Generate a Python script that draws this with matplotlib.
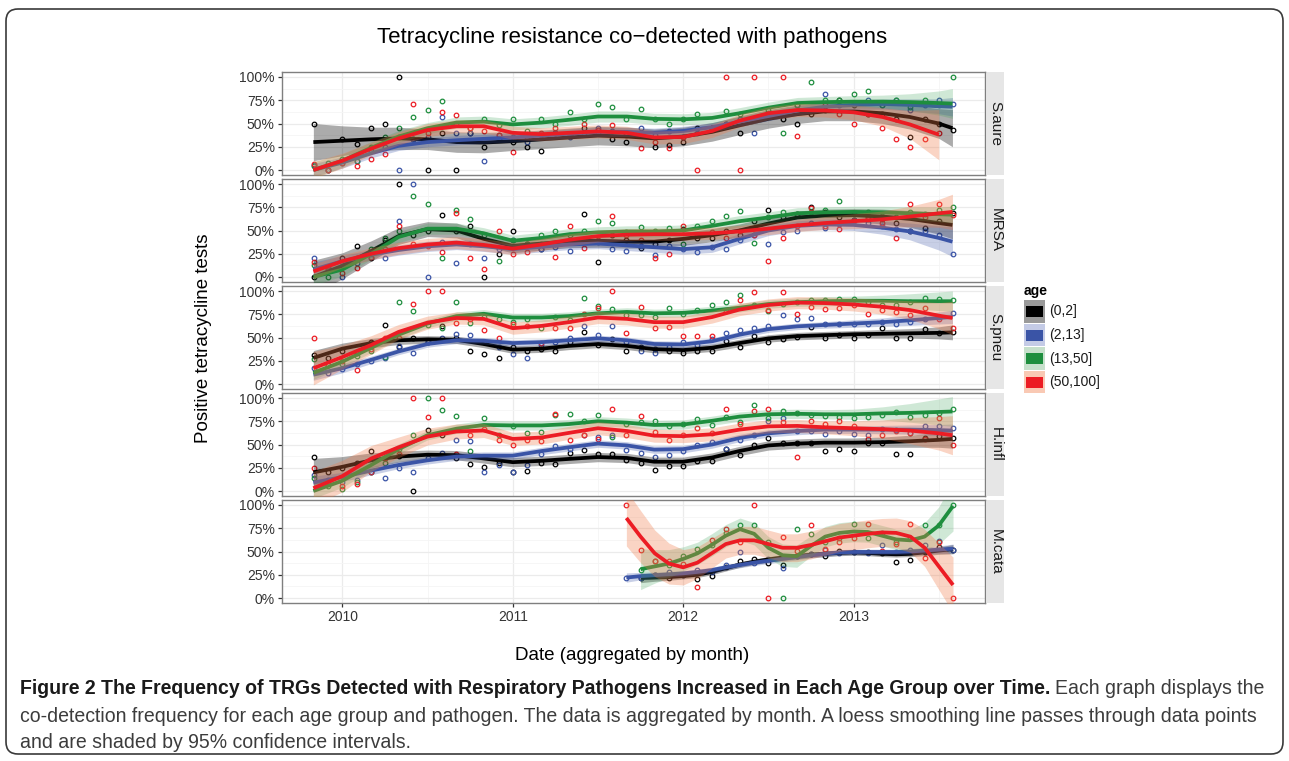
import numpy as np
import matplotlib as mpl
mpl.use('Agg')
import matplotlib.pyplot as plt
from matplotlib import font_manager
from matplotlib.patches import FancyBboxPatch, Rectangle

nan = np.nan

# ---- data -----------------------------------------------------------------
AGES = ['(0,2]', '(2,13]', '(13,50]', '(50,100]']
PATHOGENS = ['S.aure', 'MRSA', 'S.pneu', 'H.infl', 'M.cata']

# observation months (Nov 2009 .. Aug 2013), M.cata only from Sep 2011
MONTHS = 2009 + 10 / 12 + np.arange(46) / 12
CATA_MONTHS = 2011 + 8 / 12 + np.arange(24) / 12

KNOTS = [2009.83, 2010.00, 2010.17, 2010.33, 2010.50, 2010.67, 2010.83, 2011.00,
         2011.17, 2011.33, 2011.50, 2011.67, 2011.83, 2012.00, 2012.17, 2012.33,
         2012.50, 2012.67, 2012.83, 2013.00, 2013.17, 2013.33, 2013.50, 2013.58]
CATA_KNOTS = CATA_MONTHS

# loess fit (percent), per age group
saure_fit = {
    '(0,2]':    [30, 31.5, 33, 34, 33, 30, 29.5, 31, 33, 35, 37, 36, 34, 36, 41, 48, 55, 60, 63, 63, 61, 57, 50, 45],
    '(2,13]':   [0, 8, 18, 26, 30, 32, 33.5, 35, 37, 39, 41, 41, 40, 42, 46, 52, 58, 64, 68, 70, 71, 70, 68.5, 68],
    '(13,50]':  [0, 10, 24, 36, 45, 51, 52, 49, 51, 54, 57.5, 57.5, 55, 54.5, 56, 61, 67, 72, 73, 73.5, 73.5, 73, 72, 71.5],
    '(50,100]': [0, 10, 23, 34, 43, 47, 47, 40, 38.5, 40, 41.5, 40, 35, 35.5, 42, 53, 61, 64.5, 64, 62, 57, 49, 38, nan],
}
mrsa_fit = {
    '(0,2]':    [0, 12, 28, 44, 51.5, 50, 41, 33.5, 36, 38.5, 39, 38, 38, 41, 45, 50, 57.5, 64, 66, 66.5, 65, 62.5, 58, 56],
    '(2,13]':   [8, 17, 24, 29, 33, 35, 33, 30, 32.5, 35, 36, 34, 32, 30, 32, 41, 50, 55, 56.5, 56, 53, 49, 42, 38],
    '(13,50]':  [0, 8, 25, 43, 52, 52, 47, 39, 42, 46, 48, 49, 49, 50, 55, 60, 64, 68.5, 69.5, 70, 69.5, 68.5, 67.5, 67],
    '(50,100]': [6, 17, 25, 31, 35, 37, 34.5, 30.5, 35, 40, 44, 45.5, 46, 46, 47, 49, 52, 55.5, 58, 60, 62, 65, 68.5, 70],
}
spneu_fit = {
    '(0,2]':    [28, 38, 44, 47, 48, 47.5, 43, 37, 38, 41, 43, 41, 37.5, 36.5, 39, 44, 49, 51.5, 52.5, 53.5, 54, 54.5, 55, 55.5],
    '(2,13]':   [10, 17, 26, 35, 43, 47, 46.5, 44, 45, 47, 49, 47, 43, 42.5, 46, 53, 59, 62, 63.5, 65, 66.5, 68.5, 71, 72],
    '(13,50]':  [12, 24, 39, 53, 65, 73, 75.5, 71.5, 71.5, 73, 76, 77.5, 76, 76.5, 79, 82, 86, 88, 89, 89.5, 89.5, 89, 89, 89],
    '(50,100]': [17, 29, 42, 56, 66, 71, 70, 60, 62.5, 66.5, 71.5, 70, 66.5, 66.5, 72, 80, 85, 87.5, 87, 85.5, 83, 79.5, 73.5, 71],
}
hinfl_fit = {
    '(0,2]':    [20, 26, 33, 37, 39, 38.5, 35, 31, 32.5, 34.5, 36.5, 35.5, 31.5, 31.5, 36, 43, 49, 51, 52, 52, 52.5, 53.5, 55, 56],
    '(2,13]':   [9, 15, 22, 28, 33, 37, 38, 38, 43, 47, 51, 49, 44.5, 45, 50, 57, 62, 64.5, 66, 66, 66, 66, 65.5, 65],
    '(13,50]':  [0, 11, 28, 45, 60, 67, 71, 70.5, 70.5, 72, 75, 73.5, 71, 71.5, 75.5, 80, 82.5, 83, 82.5, 82.5, 83.5, 84, 85, 85.5],
    '(50,100]': [3, 16, 35, 47, 58.5, 64, 65, 56, 57.5, 62.5, 67.5, 64.5, 59.5, 59, 61, 66, 69.5, 70, 68.5, 67.5, 66.5, 65, 62, 60],
}
mcata_fit = {
    '(0,2]':    [nan, 21.5, 22, 22.5, 23.5, 25, 28, 32, 36, 39, 41.5, 43.5, 45, 46.5, 47.5, 48.5, 49, 48.5, 47.5, 47, 47.5, 49, 51, 52.5],
    '(2,13]':   [22, 23.5, 24.5, 25.5, 26.5, 28, 30, 33, 35.5, 38, 40, 42, 44, 46, 47.5, 49, 49.5, 49.5, 49.5, 49.5, 50, 51, 52, 53],
    '(13,50]':  [nan, 31, 34, 37, 42, 48, 57, 67, 74, 69, 54, 46, 45, 56, 66, 70, 71.5, 71, 67, 63, 62, 66, 78, 99],
    '(50,100]': [86, 66, 48, 37, 33, 38, 48, 58, 62, 62, 58, 54, 54, 57, 61, 65, 67, 69, 70.5, 70, 66, 54, 34, 14],
}

# half width of the 95% confidence band (percent)
saure_ci = {
    '(0,2]':    [20, 16, 13, 12, 11, 11, 11, 10, 10, 10, 10, 10, 10, 10, 10, 10, 10, 10, 10, 10, 11, 13, 16, 20],
    '(2,13]':   [7, 6, 5, 5, 5, 5, 5, 5, 5, 5, 5, 5, 5, 5, 5, 5, 5, 5, 5, 5, 5.5, 6.5, 8, 10],
    '(13,50]':  [9, 7, 6.5, 6.5, 6, 6, 6, 6, 6, 6, 6, 6, 6, 6, 6, 6, 6, 6, 6, 6.5, 7, 9, 13, 16],
    '(50,100]': [9, 8, 7, 7, 7, 7, 7, 7, 7, 7, 7, 7, 7, 7, 7, 7, 7, 7, 7, 8, 10, 15, 27, nan],
}
mrsa_ci = {
    '(0,2]':    [18, 14, 11, 9, 8, 8, 8, 7.5, 7, 7, 7, 7, 7, 7, 7, 7, 7, 7, 7, 7, 8, 9, 12, 15],
    '(2,13]':   [8, 6, 5.5, 5.5, 5.5, 5.5, 5.5, 5.5, 5.5, 5.5, 5.5, 5.5, 5.5, 5.5, 5.5, 5.5, 5.5, 5.5, 5.5, 6, 7, 9, 13, 16],
    '(13,50]':  [9, 7, 6, 6, 6, 6, 6, 6, 6, 6, 6, 6, 6, 6, 6, 6, 6, 6, 6, 6, 6.5, 7, 8, 9],
    '(50,100]': [8, 7, 6.5, 6.5, 6.5, 6.5, 6.5, 6.5, 6.5, 6.5, 6.5, 6.5, 6.5, 6.5, 6.5, 6.5, 6.5, 6.5, 7, 8, 9, 11, 15, 19],
}
spneu_ci = {
    '(0,2]':    [8, 6, 5, 4.5, 4, 4, 4, 4, 4, 4, 4, 4, 4, 4, 4, 4, 4, 4, 4, 4, 4.5, 5, 6.5, 8],
    '(2,13]':   [6, 5, 4, 3.5, 3.5, 3.5, 3.5, 3.5, 3.5, 3.5, 3.5, 3.5, 3.5, 3.5, 3.5, 3.5, 3.5, 3.5, 3.5, 4, 4.5, 5.5, 6.5, 7],
    '(13,50]':  [7, 6, 5, 4.5, 4.5, 4.5, 4.5, 4.5, 4.5, 4.5, 4.5, 4.5, 4.5, 4.5, 4.5, 4.5, 4.5, 4.5, 5, 5, 6, 8, 10, 11],
    '(50,100]': [18, 13, 10, 8, 7, 6.5, 6.5, 6.5, 6.5, 6.5, 6.5, 6.5, 6.5, 6.5, 6.5, 6.5, 6.5, 6.5, 6.5, 7, 8, 10, 14, 18],
}
hinfl_ci = {
    '(0,2]':    [15, 11, 8, 6, 5, 5, 5, 5, 5, 5, 5, 5, 5, 5, 5, 5, 5, 5, 5, 5, 5.5, 6.5, 8, 10],
    '(2,13]':   [7, 5, 4.5, 4, 4, 4, 4, 4, 4, 4, 4, 4, 4, 4, 4, 4, 4, 4, 4, 4, 4.5, 5, 6, 7],
    '(13,50]':  [8, 7, 6, 5.5, 5, 5, 5, 5, 5, 5, 5, 5, 5, 5, 5, 5, 5, 5, 5, 5.5, 7, 10, 14, 16],
    '(50,100]': [18, 17, 14, 11, 9, 8, 7.5, 7, 7, 7, 7, 7, 7, 7, 7, 7, 7, 7, 7, 8, 10, 14, 18, 21],
}
mcata_ci = {
    '(0,2]':    [nan, 5, 4, 3.5, 3, 3, 3, 3, 3, 3, 3, 3, 3, 3, 3, 3, 3, 3, 3, 3, 3, 3.5, 4, 5],
    '(2,13]':   [5, 4, 3.5, 3, 3, 3, 3, 3, 3, 3, 3, 3, 3, 3, 3, 3, 3, 3, 3, 3, 3, 3.5, 4, 5],
    '(13,50]':  [nan, 22, 18, 15, 13, 12, 12, 12, 12, 12, 12, 12, 12, 11, 11, 11, 11, 11, 11, 11, 12, 15, 20, 27],
    '(50,100]': [30, 28, 25, 22, 19, 17, 16, 15, 15, 15, 15, 15, 15, 15, 15, 15, 15, 15, 15, 16, 17, 20, 25, 30],
}

# monthly positive share (percent)
saure_obs = {
    '(0,2]':    [50, 0, 33, 28, 45, 50, 100, 33, 0, 40, 0, 40, 25, 33, 30, 25, 20, 40, 38, 45,
                 40, 33, 30, 38, 25, 27, 30, 45, 45, 50, 40, 55, 60, 55, 50, 60, 65, 75, 70, 60,
                 60, 55, 35, 55, 50, 43],
    '(2,13]':   [5, 0, 8, 10, 20, 25, 0, 33, 35, 57, 40, 40, 10, 38, 35, 30, 38, 40, 35, 40,
                 45, 42, 40, 45, 38, 42, 35, 40, 45, 50, 55, 40, 58, 60, 70, 65, 82, 70, 72, 75,
                 70, 75, 65, 70, 75, 71],
    '(13,50]':  [4, 8, 12, 10, 25, 35, 45, 57, 64, 74, 50, 45, 55, 48, 55, 42, 55, 50, 62, 55,
                 71, 68, 55, 66, 55, 50, 55, 60, 45, 63, 60, 55, 65, 40, 70, 95, 75, 75, 82, 85,
                 70, 75, 68, 75, 70, 100],
    '(50,100]': [6, 0, 8, 4, 12, 17, 35, 71, 40, 62, 59, 45, 42, 38, 19, 35, 40, 45, 38, 50,
                 43, 48, 38, 24, 30, 24, 35, 0, 45, 100, 0, 100, 60, 100, 37, 65, 70, 60, 50, 60,
                 45, 33, 25, 33, 40, nan],
}
mrsa_obs = {
    '(0,2]':    [0, 10, 20, 33, 20, 40, 100, 45, 50, 67, 50, 55, 0, 25, 50, 35, 30, 35, 40, 68,
                 16, 45, 40, 31, 35, 40, 52, 42, 42, 50, 45, 60, 72, 65, 68, 75, 70, 65, 61, 65,
                 62, 58, 49, 53, 60, 69],
    '(2,13]':   [20, 10, 0, 15, 25, 20, 60, 100, 0, 38, 15, 35, 20, 30, 40, 35, 30, 32, 28, 40,
                 38, 30, 28, 33, 24, 33, 30, 27, 32, 30, 40, 45, 36, 48, 50, 58, 53, 57, 61, 58,
                 55, 52, 50, 50, 45, 25],
    '(13,50]':  [13, 0, 12, 20, 30, 42, 50, 87, 78, 20, 72, 62, 45, 17, 40, 35, 45, 50, 45, 50,
                 60, 58, 48, 54, 50, 53, 35, 55, 60, 66, 71, 37, 65, 70, 68, 70, 72, 82, 68, 70,
                 66, 65, 70, 68, 72, 75],
    '(50,100]': [16, 8, 4, 10, 22, 30, 55, 35, 33, 27, 69, 20, 9, 50, 25, 27, 35, 21, 55, 31,
                 40, 66, 45, 40, 20, 25, 55, 45, 48, 42, 50, 45, 17, 42, 55, 74, 55, 52, 60, 62,
                 58, 42, 78, 65, 78, 67],
}
spneu_obs = {
    '(0,2]':    [31, 28, 35, 33, 45, 63, 40, 50, 45, 62, 50, 35, 32, 28, 40, 36, 38, 36, 45, 56,
                 42, 48, 35, 40, 38, 35, 33, 35, 35, 46, 40, 52, 45, 48, 51, 61, 49, 53, 50, 53,
                 60, 49, 49, 59, 55, 56],
    '(2,13]':   [17, 12, 16, 21, 25, 28, 41, 33, 45, 50, 54, 53, 45, 40, 32, 28, 42, 45, 50, 62,
                 53, 62, 45, 36, 33, 40, 45, 42, 48, 55, 58, 60, 62, 74, 70, 71, 64, 64, 65, 64,
                 67, 65, 67, 70, 72, 76],
    '(13,50]':  [27, 20, 22, 30, 35, 29, 88, 78, 63, 60, 88, 66, 72, 70, 67, 70, 60, 72, 69, 92,
                 84, 81, 74, 74, 72, 82, 75, 80, 85, 88, 96, 85, 78, 86, 88, 90, 90, 91, 91, 88,
                 85, 85, 88, 92, 91, 90],
    '(50,100]': [50, 20, 25, 15, 38, 50, 50, 86, 100, 100, 66, 70, 58, 50, 65, 62, 44, 60, 60, 75,
                 82, 100, 55, 83, 60, 61, 52, 52, 52, 78, 90, 99, 80, 99, 75, 83, 81, 82, 85, 75,
                 80, 77, 74, 82, 70, 60],
}
hinfl_obs = {
    '(0,2]':    [37, 20, 25, 30, 43, 35, 38, 0, 66, 60, 35, 29, 26, 30, 20, 21, 30, 29, 41, 44,
                 40, 40, 33, 30, 23, 27, 27, 32, 32, 45, 39, 49, 57, 52, 52, 52, 43, 45, 43, 52,
                 52, 40, 40, 57, 59, 57],
    '(2,13]':   [17, 12, 10, 12, 20, 14, 25, 20, 35, 41, 55, 54, 20, 28, 20, 28, 40, 48, 45, 60,
                 58, 60, 44, 41, 37, 39, 43, 50, 53, 45, 55, 60, 75, 78, 65, 64, 61, 64, 61, 60,
                 67, 66, 62, 70, 70, 68],
    '(13,50]':  [14, 5, 2, 10, 20, 30, 45, 60, 100, 87, 81, 43, 78, 60, 70, 62, 63, 82, 83, 75,
                 82, 58, 72, 74, 75, 70, 72, 77, 71, 80, 74, 93, 78, 86, 84, 82, 81, 80, 79, 80,
                 82, 85, 80, 82, 84, 88],
    '(50,100]': [25, 10, 5, 7, 20, 35, 40, 100, 80, 100, 40, 60, 67, 55, 50, 55, 54, 83, 55, 60,
                 56, 88, 60, 81, 63, 55, 60, 68, 62, 88, 72, 86, 88, 74, 37, 75, 72, 75, 70, 56,
                 60, 65, 62, 56, 79, 49],
}
mcata_obs = {
    '(0,2]':    [nan, 22, 25, 22, 25, 20, 24, 33, 40, 42, 38, 36, 45, 47, 45, 51, 50, 49, 48, 39, 41, 50, 55, 52],
    '(2,13]':   [22, 22, 25, 28, 25, 30, 28, 35, 50, 38, 42, 32, 45, 47, 52, 48, 50, 48, 57, 50, 52, 57, 61, 52],
    '(13,50]':  [nan, 30, 40, 35, 45, 53, 57, 70, 78, 79, 60, 0, 74, 69, 60, 65, 80, 65, 70, 60, 65, 79, 79, 100],
    '(50,100]': [100, 52, 40, 40, 37, 12, 62, 74, 60, 100, 0, 66, 51, 78, 53, 60, 65, 80, 51, 58, 80, 43, 60, 0],
}

FITS = [saure_fit, mrsa_fit, spneu_fit, hinfl_fit, mcata_fit]
CIS = [saure_ci, mrsa_ci, spneu_ci, hinfl_ci, mcata_ci]
OBS = [saure_obs, mrsa_obs, spneu_obs, hinfl_obs, mcata_obs]

# ---- style ----------------------------------------------------------------
LINE_COL = {'(0,2]': '#000000', '(2,13]': '#3a54a6', '(13,50]': '#1e8e3e', '(50,100]': '#ec1c24'}
BAND_COL = {'(0,2]': '#000000', '(2,13]': '#3a54a6', '(13,50]': '#3aa255', '(50,100]': '#f07a48'}
BAND_ALPHA = {'(0,2]': 0.33, '(2,13]': 0.28, '(13,50]': 0.24, '(50,100]': 0.32}
KEY_BG = {'(0,2]': '#9a9a9a', '(2,13]': '#c4cbe6', '(13,50]': '#c7e0cc', '(50,100]': '#f9c9b4'}

plt.rcParams['font.family'] = ['Liberation Sans', 'DejaVu Sans']

W, H = 1289, 761
fig = plt.figure(figsize=(W / 100, H / 100), dpi=100)
fig.patch.set_facecolor('white')

X0, X1 = 282, 985
TOPS = [72.35, 179.35, 286.35, 393.35, 500.35]
PH = 102.3
S0, S1 = 987, 1004


def add_px_axes(x0, top, x1, h, **kw):
    return fig.add_axes([x0 / W, 1 - (top + h) / H, (x1 - x0) / W, h / H], **kw)


for i, pathogen in enumerate(PATHOGENS):
    ax = add_px_axes(X0, TOPS[i], X1, PH)
    knots = np.array(CATA_KNOTS if pathogen == 'M.cata' else KNOTS)
    months = CATA_MONTHS if pathogen == 'M.cata' else MONTHS

    for age in AGES:
        ax.plot(months, np.array(OBS[i][age], float) / 100, 'o', ms=3.3, mfc='none',
                mec=LINE_COL[age], mew=0.9, zorder=2)

    for k, age in enumerate(AGES):
        fit = np.array(FITS[i][age], float) / 100
        ci = np.array(CIS[i][age], float) / 100
        ok = ~np.isnan(fit)
        ax.fill_between(knots[ok], (fit - ci)[ok], (fit + ci)[ok], color=BAND_COL[age],
                        alpha=BAND_ALPHA[age], lw=0, zorder=3 + 2 * k)
        ax.plot(knots[ok], fit[ok], color=LINE_COL[age], lw=2.7, solid_capstyle='butt',
                zorder=4 + 2 * k)

    ax.set_xlim(2009.646, 2013.771)
    ax.set_ylim(-0.05, 1.05)
    ax.set_xticks([2010, 2011, 2012, 2013])
    ax.set_xticks([2010.5, 2011.5, 2012.5, 2013.5], minor=True)
    ax.set_yticks([0, 0.25, 0.5, 0.75, 1.0])
    ax.set_yticks([0.125, 0.375, 0.625, 0.875], minor=True)
    ax.set_yticklabels(['0%', '25%', '50%', '75%', '100%'])
    ax.grid(which='major', color='#ebebeb', lw=0.9, zorder=0)
    ax.grid(which='minor', color='#f5f5f5', lw=0.6, zorder=0)
    ax.set_axisbelow(True)
    for sp in ax.spines.values():
        sp.set_color('#7f7f7f')
        sp.set_linewidth(1.0)
    ax.tick_params(which='minor', length=0)
    ax.tick_params(which='major', length=3.2, width=0.9, color='#333333',
                   labelsize=10, labelcolor='#333333', pad=2)
    if i < len(PATHOGENS) - 1:
        ax.tick_params(axis='x', length=0, labelbottom=False)

    sax = add_px_axes(S0, TOPS[i], S1, PH)
    sax.set_facecolor('#e6e6e6')
    sax.set_xticks([])
    sax.set_yticks([])
    for sp in sax.spines.values():
        sp.set_visible(False)
    sax.text(0.5, 0.5, pathogen, rotation=-90, ha='center', va='center',
             fontsize=11, color='#1a1a1a', transform=sax.transAxes)

fig.text(632 / W, 1 - 38 / H, 'Tetracycline resistance co\u2212detected with pathogens',
         fontsize=16, ha='center', va='center')
fig.text(632 / W, 1 - 656 / H, 'Date (aggregated by month)', fontsize=13.5,
         ha='center', va='center')
fig.text(203 / W, 1 - 338 / H, 'Positive tetracycline tests', fontsize=13.5,
         rotation=90, ha='center', va='center')

# overlay in pixel coordinates: legend, caption and frame
ov = fig.add_axes([0, 0, 1, 1], zorder=10)
ov.set_xlim(0, W)
ov.set_ylim(H, 0)
ov.axis('off')
ov.patch.set_alpha(0)

ov.add_patch(FancyBboxPatch((6, 9), 1277, 745, boxstyle='round,pad=0,rounding_size=12',
                            fc='none', ec='#3a3a3a', lw=1.2))

ov.text(1024, 291, 'age', fontsize=10, fontweight='bold', ha='left', va='center')
for k, age in enumerate(AGES):
    y0 = 300 + k * 23.5
    ov.add_patch(Rectangle((1024, y0), 21, 22.5, fc=KEY_BG[age], ec='none'))
    ov.add_patch(Rectangle((1026, y0 + 6), 17, 11, fc=LINE_COL[age], ec='none'))
    ov.text(1049, y0 + 11.5, age, fontsize=10, ha='left', va='center', color='#1a1a1a')

# caption, sized so that the first (widest) line spans the frame
avail = {f.name for f in font_manager.fontManager.ttflist}
cap_font = 'Liberation Sans Narrow' if 'Liberation Sans Narrow' in avail else 'Liberation Sans'
renderer = fig.canvas.get_renderer()
CAP_X, CAP_W = 20, 1242

bold = ov.text(CAP_X, 689, 'Figure 2 The Frequency of TRGs Detected with Respiratory Pathogens '
               'Increased in Each Age Group over Time.', fontsize=12, family=cap_font,
               fontweight='bold', color='#1a1a1a', ha='left', va='center')
rest = ov.text(CAP_X, 689, 'Each graph displays the', fontsize=12, family=cap_font,
               color='#3c3c3c', ha='left', va='center')
total = (bold.get_window_extent(renderer).width + rest.get_window_extent(renderer).width
         + 12 * 0.35)
cap_size = 12 * CAP_W / total
bold.set_fontsize(cap_size)
rest.set_fontsize(cap_size)
rest.set_x(CAP_X + bold.get_window_extent(renderer).width + cap_size * 0.35)

ov.text(CAP_X, 716, 'co-detection frequency for each age group and pathogen. The data is '
        'aggregated by month. A loess smoothing line passes through data points',
        fontsize=cap_size, family=cap_font, color='#3c3c3c', ha='left', va='center')
ov.text(CAP_X, 743, 'and are shaded by 95% confidence intervals.', fontsize=cap_size,
        family=cap_font, color='#3c3c3c', ha='left', va='center')

fig.savefig('out.png', dpi=100, facecolor='white')
